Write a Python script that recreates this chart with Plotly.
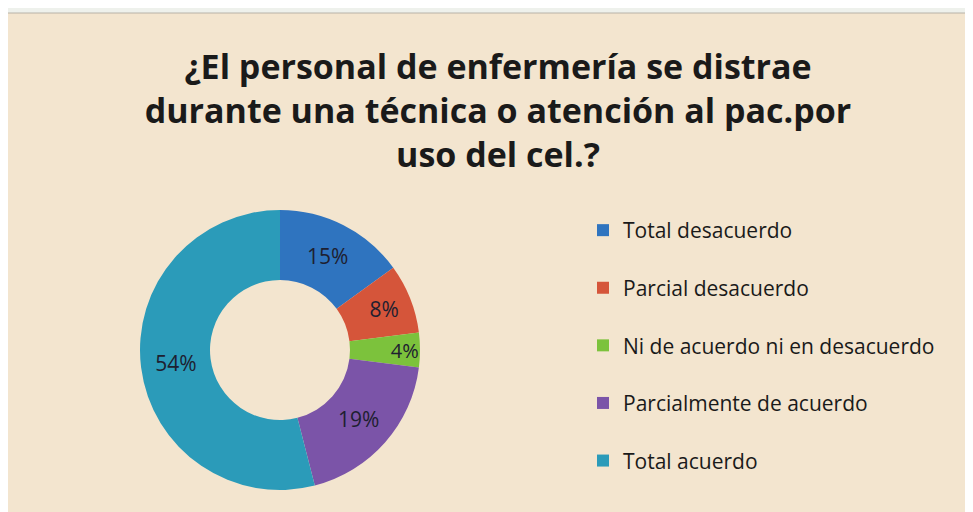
import plotly.graph_objects as go

categories = [
    "Total desacuerdo",
    "Parcial desacuerdo",
    "Ni de acuerdo ni en desacuerdo",
    "Parcialmente de acuerdo",
    "Total acuerdo",
]
percentages = [15, 8, 4, 19, 54]
slice_colors = ["#2f74bf", "#d5553a", "#7cc23c", "#7b54a8", "#2b9bb9"]

title_lines = [
    "¿El personal de enfermería se distrae",
    "durante una técnica o atención al pac.por",
    "uso del cel.?",
]

W, H = 965, 504  # page body has an 8px margin, so the figure is a bit smaller than the window
BEIGE = "#f3e5cf"
FONT = "'Open Sans', Lato, sans-serif"

# blank second line makes each legend entry taller (Excel spaces them out)
legend_labels = [c + "<br> " for c in categories]

fig = go.Figure()
fig.add_trace(go.Pie(
    labels=legend_labels, values=percentages, hole=0.5,
    sort=False, direction="clockwise", rotation=0,
    marker=dict(colors=slice_colors, line=dict(width=0)),
    textinfo="percent", texttemplate="%{value}%", textposition="inside",
    insidetextorientation="horizontal",
    textfont=dict(family=FONT, size=21, color="#1e2030"),
    domain=dict(x=[132 / W, 412 / W], y=[22 / H, 302 / H]),
    hoverinfo="skip",
))

fig.update_layout(
    width=W, height=H,
    margin=dict(l=0, r=0, t=0, b=0),
    paper_bgcolor=BEIGE, plot_bgcolor=BEIGE,
    title=dict(text="<br>".join(title_lines), x=490 / W, xanchor="center",
               y=1 - 71 / H, yanchor="top",
               font=dict(family=FONT, size=34, color="#1a1a1a", weight="bold")),
    legend=dict(x=575 / W, y=1 - 202 / H, xanchor="left", yanchor="top",
                valign="top", bgcolor="rgba(0,0,0,0)",
                font=dict(family=FONT, size=21, color="#1a1a1a")),
    shapes=[
        # scanner margin above the chart box
        dict(type="rect", xref="paper", yref="paper", x0=0, x1=1, y0=1 - 5 / H, y1=1,
             fillcolor="#eef1ec", line=dict(width=0), layer="above"),
        dict(type="line", xref="paper", yref="paper", x0=0, x1=1,
             y0=1 - 5 / H, y1=1 - 5 / H, line=dict(color="#b8b2a8", width=1)),
    ],
)

fig.write_html("out.html")
